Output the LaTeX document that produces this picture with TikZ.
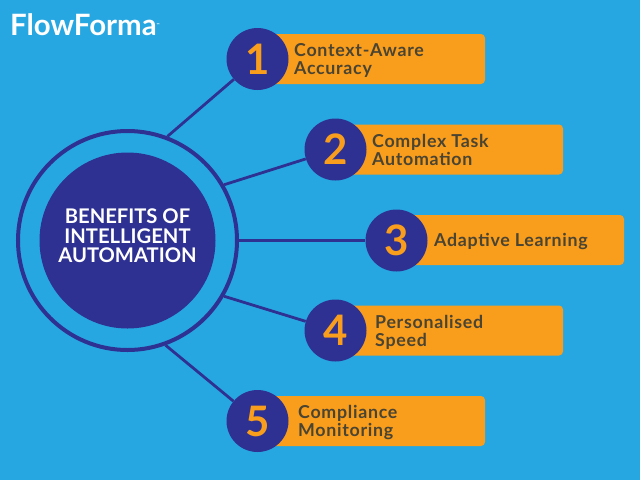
\documentclass[tikz,border=0pt]{standalone}
\usepackage{fontspec}
\setmainfont{Lato}
\newfontfamily\spaced[LetterSpace=4]{Lato}
\definecolor{bgblue}{HTML}{27A7E1}
\definecolor{navy}{HTML}{2E3192}
\definecolor{amber}{HTML}{F99D1C}
\definecolor{ink}{HTML}{4A4432}
\tikzset{
  bar/.style={fill=amber,rounded corners=4pt},
  badge/.style={circle,fill=navy,minimum size=62pt,inner sep=0pt,text=amber,font=\fontsize{42}{42}\selectfont\bfseries},
  lab/.style={anchor=west,align=left,text=ink,inner sep=0pt,font=\spaced\fontsize{17.8}{18}\selectfont\bfseries},
  link/.style={draw=navy,line width=2.8pt},
}
\begin{document}
\begin{tikzpicture}[x=1pt,y=-1pt]
\fill[bgblue] (0,0) rectangle (640,480);
\useasboundingbox (0,0) rectangle (640,480);
\node[anchor=west,text=white,inner sep=0pt,font=\fontsize{29.4}{30}\selectfont\bfseries] (logo) at (10,25) {FlowForma\raisebox{9pt}{\fontsize{4}{4}\selectfont ™}};
\node[circle,draw=navy,line width=4pt,minimum size=219pt,inner sep=0pt] (ring) at (127.5,240.5) {};
\node[circle,fill=navy,minimum size=176pt,inner sep=0pt] (hub) at (127.5,240.5) {};
\node[align=center,text=white,inner sep=0pt,font=\fontsize{20.2}{19.5}\selectfont\bfseries] (title) at (127.5,236) {BENEFITS OF\\INTELLIGENT\\AUTOMATION};
\fill[bar] (257,34) rectangle (485,84);
\fill[bar] (335,124.5) rectangle (563,174.5);
\fill[bar] (396,215) rectangle (624,265);
\fill[bar] (335,305.5) rectangle (563,355.5);
\fill[bar] (257,396) rectangle (485,446);
\node[badge] (n1) at (257.5,59) {1};
\node[badge] (n2) at (335.5,149.5) {2};
\node[badge] (n3) at (396.5,240.5) {3};
\node[badge] (n4) at (335.5,330.5) {4};
\node[badge] (n5) at (257.5,421) {5};
\draw[link] (ring.69) -- (n1);
\draw[link] (ring.30) -- (n2);
\draw[link] (ring.0) -- (n3);
\draw[link] (ring.-30) -- (n4);
\draw[link] (ring.-70) -- (n5);
\node[lab] (t1) at (294,60) {Context-Aware\\Accuracy};
\node[lab] (t2) at (372,150) {Complex Task\\Automation};
\node[lab] (t3) at (434,241) {Adaptive Learning};
\node[lab] (t4) at (375,332) {Personalised\\Speed};
\node[lab] (t5) at (298,422) {Compliance\\Monitoring};
\end{tikzpicture}
\end{document}
